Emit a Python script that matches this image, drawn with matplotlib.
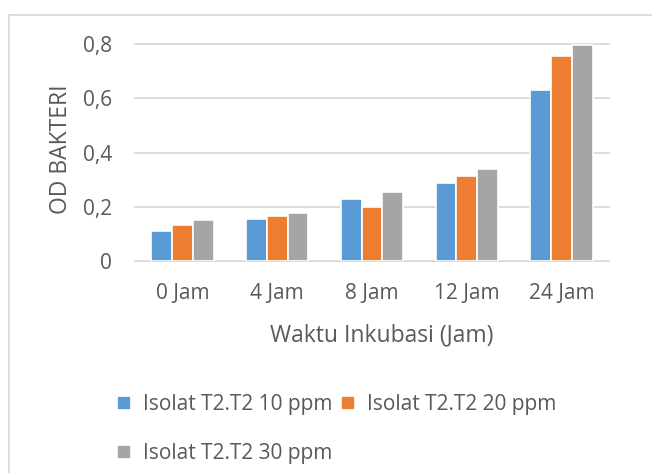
import matplotlib
matplotlib.use('Agg')
import matplotlib.pyplot as plt
from matplotlib.lines import Line2D
import numpy as np

plt.rcParams['font.family'] = ['Open Sans', 'DejaVu Sans']

categories = ['0 Jam', '4 Jam', '8 Jam', '12 Jam', '24 Jam']
series_names = ['Isolat T2.T2 10 ppm', 'Isolat T2.T2 20 ppm', 'Isolat T2.T2 30 ppm']
od_10ppm = [0.111, 0.154, 0.230, 0.286, 0.630]
od_20ppm = [0.134, 0.167, 0.199, 0.314, 0.756]
od_30ppm = [0.151, 0.177, 0.254, 0.338, 0.798]
y_ticks = [0, 0.2, 0.4, 0.6, 0.8]
y_ticklabels = ['0', '0,2', '0,4', '0,6', '0,8']

colors = ['#5B9BD5', '#ED7D31', '#A5A5A5']
text_col = '#595959'
grid_col = '#D9D9D9'
fs_tick = 15
fs_title = 16.5

fig = plt.figure(figsize=(6.52, 4.73), dpi=100)
ax = fig.add_axes([135 / 652, 1 - 261 / 473, 474 / 652, 217 / 473])

x = np.arange(len(categories))
step = 0.22
for i, (vals, name) in enumerate(zip([od_10ppm, od_20ppm, od_30ppm], series_names)):
    ax.bar(x + (i - 1) * step, vals, width=step, color=colors[i],
           edgecolor='white', linewidth=1.2, label=name, zorder=3)

ax.set_xlim(-0.5, len(categories) - 0.5)
ax.set_ylim(0, 0.8)
ax.set_yticks(y_ticks)
ax.set_yticklabels(y_ticklabels)
ax.set_xticks(x)
ax.set_xticklabels(categories)
ax.tick_params(axis='both', length=0, labelsize=fs_tick, labelcolor=text_col)
ax.tick_params(axis='y', pad=16.5)
ax.tick_params(axis='x', pad=15.5)
ax.grid(axis='y', color=grid_col, linewidth=1.3, zorder=0)
for gl in ax.get_ygridlines():
    gl.set_clip_on(False)
for s in ax.spines.values():
    s.set_visible(False)

ax.set_xlabel('Waktu Inkubasi (Jam)', fontsize=fs_title, color=text_col, labelpad=14)
ax.set_ylabel('OD BAKTERI', fontsize=fs_title, color=text_col, labelpad=7)
ax.xaxis.label.set_x(0.521)
ax.yaxis.label.set_y(0.516)

# legend laid out row by row: 10 ppm, 20 ppm on top, 30 ppm below
h, l = ax.get_legend_handles_labels()
order = [0, 2, 1]
fig.legend([h[k] for k in order], [l[k] for k in order], ncol=2,
           loc='upper left', bbox_to_anchor=(117 / 652, 1 - 394 / 473),
           frameon=False, fontsize=fs_tick, labelcolor=text_col,
           borderaxespad=0, borderpad=0,
           handlelength=0.67, handleheight=0.67, handletextpad=0.58,
           columnspacing=0.43, labelspacing=1.35)

# chart border
fig.add_artist(Line2D([9 / 652, 1], [1 - 15 / 473] * 2, color=grid_col, linewidth=1.3))
fig.add_artist(Line2D([9 / 652] * 2, [0, 1 - 15 / 473], color=grid_col, linewidth=1.3))

fig.savefig('out.png', dpi=100)
